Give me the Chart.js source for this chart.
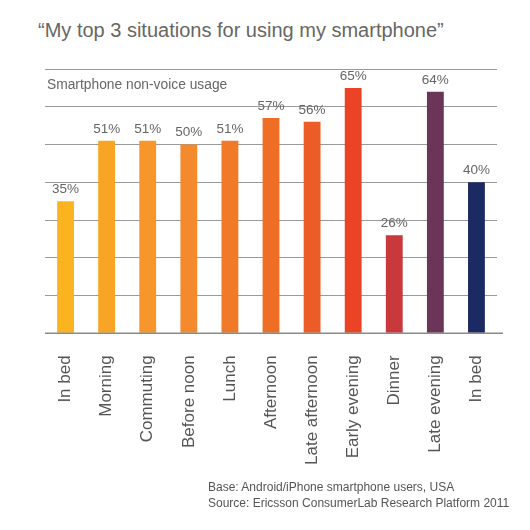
<!DOCTYPE html>
<html>
<head>
<meta charset="utf-8">
<script src="https://cdn.jsdelivr.net/npm/chart.js@4/dist/chart.umd.min.js"></script>
<style>
  html, body { margin:0; padding:0; background:#fff; }
  #wrap { position:relative; width:530px; height:530px; overflow:hidden; font-family:"Liberation Sans", Arial, sans-serif; }
  #chartBox { position:absolute; left:0; top:0; width:530px; height:487px; }
  .title { position:absolute; left:38px; top:19px; font-size:20px; color:#666; white-space:nowrap; }
  .sub { position:absolute; left:47px; top:77px; font-size:13.8px; color:#666; white-space:nowrap; }
  .foot { position:absolute; left:208px; font-size:12px; color:#555; white-space:nowrap; }
</style>
</head>
<body>
<div id="wrap">
  <div class="title">“My top 3 situations for using my smartphone”</div>
  <div id="chartBox"><canvas id="c"></canvas></div>
  <div class="sub">Smartphone non-voice usage</div>
  <div class="foot" style="top:480px">Base: Android/iPhone smartphone users, USA</div>
  <div class="foot" style="top:496px">Source: Ericsson ConsumerLab Research Platform 2011</div>
</div>
<script>
const categories = ["In bed","Morning","Commuting","Before noon","Lunch","Afternoon","Late afternoon","Early evening","Dinner","Late evening","In bed"];
const usageValues = [35, 51, 51, 50, 51, 57, 56, 65, 26, 64, 40];
const barColors = ["#FBB41F","#F8A424","#F7962A","#F38A2D","#F07A28","#EF6E26","#EC5C27","#EA4326","#C9383A","#6B3559","#1C2A63"];
const yTicks = [0, 10, 20, 30, 40, 50, 60, 70];

const valueLabels = {
  id: 'valueLabels',
  afterDatasetsDraw(chart) {
    const ctx = chart.ctx;
    const meta = chart.getDatasetMeta(0);
    ctx.save();
    ctx.font = '13.5px "Liberation Sans", Arial, sans-serif';
    ctx.fillStyle = '#666';
    ctx.textAlign = 'center';
    ctx.textBaseline = 'bottom';
    meta.data.forEach((bar, i) => {
      ctx.fillText(chart.data.datasets[0].data[i] + '%', bar.x, bar.y - 5);
    });
    ctx.restore();
  }
};
const baseline = {
  id: 'baseline',
  afterDatasetsDraw(chart) {
    const a = chart.chartArea, ctx = chart.ctx;
    const y = chart.scales.y.getPixelForValue(0);
    ctx.save();
    ctx.strokeStyle = '#8a8a8a';
    ctx.lineWidth = 1.5;
    ctx.beginPath();
    ctx.moveTo(a.left, y);
    ctx.lineTo(a.right + 6, y);
    ctx.stroke();
    ctx.restore();
  }
};

new Chart(document.getElementById('c'), {
  type: 'bar',
  data: {
    labels: categories,
    datasets: [{ data: usageValues, backgroundColor: barColors, borderWidth: 0, categoryPercentage: 1, barPercentage: 0.41 }]
  },
  options: {
    responsive: true,
    maintainAspectRatio: false,
    animation: false,
    layout: { padding: { left: 45, right: 33, top: 69, bottom: 0 } },
    plugins: { legend: { display: false }, tooltip: { enabled: false } },
    scales: {
      x: {
        grid: { display: false, drawTicks: false },
        border: { display: false },
        ticks: { minRotation: 90, maxRotation: 90, padding: 22, color: '#555', font: { size: 17, family: '"Liberation Sans", Arial, sans-serif' } }
      },
      y: {
        min: 0, max: 70,
        afterBuildTicks: (s) => { s.ticks = yTicks.map(v => ({ value: v })); },
        ticks: { display: false },
        grid: { color: '#9a9a9a', lineWidth: 1, drawTicks: false },
        border: { display: false }
      }
    }
  },
  plugins: [valueLabels, baseline]
});
</script>
</body>
</html>
